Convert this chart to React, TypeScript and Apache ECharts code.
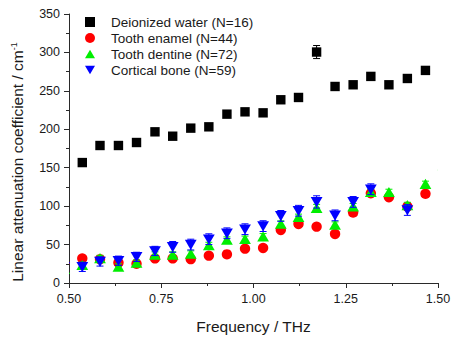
import React, { useEffect, useRef } from "react";
import * as echarts from "echarts";

// Frequency grid (THz) shared by all series
const frequency = [
  0.487, 0.536, 0.584, 0.634, 0.683, 0.733, 0.781, 0.83, 0.879, 0.928, 0.977,
  1.026, 1.074, 1.122, 1.171, 1.221, 1.27, 1.318, 1.367, 1.417, 1.466, 1.515,
];

const waterValues = [
  null, 156.7, 178.9, 178.9, 182.8, 196.7, 191, 201.5, 203.2, 219.7, 222.7,
  221.4, 238.4, 241.4, 300.5, 255.7, 257.9, 268.8, 257.9, 266.1, 276.6, null,
];
const waterErrors = [
  0, 2, 2, 2, 2, 2, 2, 2, 2, 2, 2, 2, 2, 2, 8.5, 2, 2, 2, 2, 2, 2, 0,
];

const enamelValues = [
  26, 32, 31, 26.5, 25, 32, 32, 31, 35.6, 37.3, 44.7, 45.6, 69, 76.8, 73.3,
  63.8, 91.6, 116.8, 111.6, 99.4, 116, null,
];
const enamelErrors = [
  3, 3, 3, 3, 3, 3, 3, 3, 3, 3, 3, 3, 3, 3, 3, 3, 3, 3, 3, 3, 3, 0,
];

const dentineValues = [
  18, 23, 32, 21, 26, 36.5, 36.5, 37.8, 49, 56, 57, 60.3, 76.8, 85.6, 97.3,
  75.5, 99.4, 118, 118, 101, 128.5, 153,
];
const dentineErrors = [
  4, 4, 4, 4, 4, 4, 4, 4, 4, 4, 4, 4, 4, 4, 5, 4, 4, 4, 4, 4, 4, 4,
];

const boneValues = [
  21, 21, 28, 29, 34, 41.7, 47, 50, 57, 64.7, 70, 74, 87.3, 94, 105.5, 88,
  105.5, 122, null, 95, null, null,
];
const boneErrors = [
  6, 6, 6, 6, 6, 6, 7, 7, 7, 7, 7, 7, 7, 7, 8, 7, 7, 7, 0, 7, 0, 0,
];

const seriesNames = [
  "Deionized water (N=16)",
  "Tooth enamel (N=44)",
  "Tooth dentine (N=72)",
  "Cortical bone (N=59)",
];

const yTicks = { min: 0, max: 350, interval: 50 };
const xTicks = { min: 0.5, max: 1.5, interval: 0.25 };

const FONT = "Liberation Sans, Arial, Helvetica, sans-serif";
const TEXT = "#1a1a1a";
const AXIS = "#2a2a2a";

function buildData(values: (number | null)[], errors: number[]) {
  const out: number[][] = [];
  frequency.forEach((f, i) => {
    const v = values[i];
    if (v !== null && v !== undefined) out.push([f, v, errors[i]]);
  });
  return out;
}

type Shape = "square" | "circle" | "up" | "down";

function makeRender(shape: Shape) {
  return (params: any, api: any) => {
    const x = api.value(0);
    const y = api.value(1);
    const e = api.value(2);
    const c = api.coord([x, y]);
    const cx = c[0];
    const cy = c[1];
    const yt = api.coord([x, y + e])[1];
    const yb = api.coord([x, y - e])[1];
    const color = api.visual("color");
    const children: any[] = [];
    if (shape === "square") {
      children.push({
        type: "rect",
        shape: { x: cx - 4.7, y: cy - 4.7, width: 9.4, height: 9.4 },
        style: { fill: color },
      });
    } else if (shape === "circle") {
      children.push({
        type: "circle",
        shape: { cx, cy, r: 5.2 },
        style: { fill: color },
      });
    } else if (shape === "up") {
      children.push({
        type: "polygon",
        shape: {
          points: [
            [cx - 5.9, cy + 4.8],
            [cx + 5.9, cy + 4.8],
            [cx, cy - 5.4],
          ],
        },
        style: { fill: color },
      });
    } else {
      children.push({
        type: "polygon",
        shape: {
          points: [
            [cx - 5.9, cy - 4.8],
            [cx + 5.9, cy - 4.8],
            [cx, cy + 5.4],
          ],
        },
        style: { fill: color },
      });
    }
    if (e > 0) {
      const cap = 3.5;
      const ls = { stroke: color, lineWidth: 1 };
      children.push({ type: "line", shape: { x1: cx, y1: yt, x2: cx, y2: yb }, style: ls });
      children.push({ type: "line", shape: { x1: cx - cap, y1: yt, x2: cx + cap, y2: yt }, style: ls });
      children.push({ type: "line", shape: { x1: cx - cap, y1: yb, x2: cx + cap, y2: yb }, style: ls });
    }
    return { type: "group", children };
  };
}

const ICON_SQUARE = "path://M0,0L10,0L10,10L0,10Z";
const ICON_CIRCLE = "path://M5,0A5,5,0,1,1,5,10A5,5,0,1,1,5,0Z";
const ICON_UP = "path://M5,0L10.8,10L-0.8,10Z";
const ICON_DOWN = "path://M-0.8,0L10.8,0L5,10Z";

export default function App() {
  const ref = useRef<HTMLDivElement>(null);

  useEffect(() => {
    if (!ref.current) return;
    const chart = echarts.init(ref.current, undefined, { renderer: "svg" });

    const mk = (name: string, color: string, shape: Shape, values: (number | null)[], errors: number[]) => ({
      name,
      type: "custom",
      clip: true,
      itemStyle: { color },
      encode: { x: 0, y: 1 },
      data: buildData(values, errors),
      renderItem: makeRender(shape),
    });

    chart.setOption({
      animation: false,
      backgroundColor: "#ffffff",
      textStyle: { fontFamily: FONT },
      grid: { left: 69, right: 17, top: 14, bottom: 59, containLabel: false },
      legend: {
        orient: "vertical",
        left: 85,
        top: 15,
        padding: 0,
        itemGap: 2,
        itemWidth: 10,
        itemHeight: 10,
        selectedMode: false,
        textStyle: {
          fontFamily: FONT,
          fontSize: 13.5,
          color: TEXT,
          lineHeight: 14,
          padding: [0, 0, 0, 11],
        },
        data: [
          { name: seriesNames[0], icon: ICON_SQUARE },
          { name: seriesNames[1], icon: ICON_CIRCLE },
          { name: seriesNames[2], icon: ICON_UP },
          { name: seriesNames[3], icon: ICON_DOWN },
        ],
      },
      xAxis: {
        type: "value",
        min: xTicks.min,
        max: xTicks.max,
        interval: xTicks.interval,
        name: "Frequency / THz",
        nameLocation: "middle",
        nameGap: 35,
        nameTextStyle: { fontFamily: FONT, fontSize: 15.5, color: TEXT },
        axisLine: { show: true, lineStyle: { color: AXIS, width: 1 } },
        axisTick: { show: true, length: 5, lineStyle: { color: AXIS } },
        minorTick: { show: true, splitNumber: 2, length: 3, lineStyle: { color: AXIS } },
        splitLine: { show: false },
        axisLabel: {
          fontFamily: FONT,
          fontSize: 12.5,
          color: TEXT,
          margin: 9,
          formatter: (v: number) => v.toFixed(2),
        },
      },
      yAxis: {
        type: "value",
        min: yTicks.min,
        max: yTicks.max,
        interval: yTicks.interval,
        name: "Linear attenuation coefficient / cm{sup|-1}",
        nameLocation: "middle",
        nameGap: 44,
        nameTextStyle: {
          fontFamily: FONT,
          fontSize: 15.5,
          color: TEXT,
          padding: [0, 27, 0, 0],
          rich: {
            sup: { fontFamily: FONT, fontSize: 9, color: TEXT, verticalAlign: "top" },
          },
        },
        axisLine: { show: true, lineStyle: { color: AXIS, width: 1 } },
        axisTick: { show: true, length: 5, lineStyle: { color: AXIS } },
        minorTick: { show: true, splitNumber: 2, length: 3, lineStyle: { color: AXIS } },
        splitLine: { show: false },
        axisLabel: { fontFamily: FONT, fontSize: 12.5, color: TEXT, margin: 9 },
      },
      series: [
        mk(seriesNames[0], "#000000", "square", waterValues, waterErrors),
        mk(seriesNames[1], "#ff0000", "circle", enamelValues, enamelErrors),
        mk(seriesNames[2], "#00ee00", "up", dentineValues, dentineErrors),
        mk(seriesNames[3], "#0000ff", "down", boneValues, boneErrors),
      ],
    });

    return () => chart.dispose();
  }, []);

  return (
    <div
      ref={ref}
      style={{ position: "absolute", left: 0, top: 0, width: 455, height: 342 }}
    />
  );
}
